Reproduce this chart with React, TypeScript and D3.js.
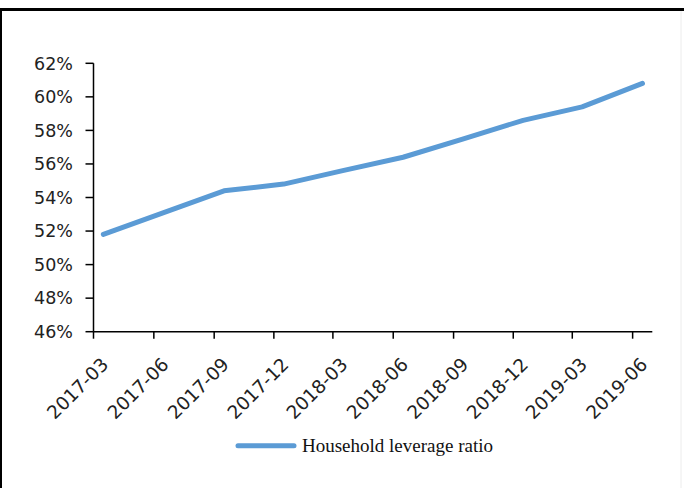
import React from "react";
import * as d3 from "d3";

// Quarterly household leverage ratio (%)
const quarters: string[] = [
  "2017-03", "2017-06", "2017-09", "2017-12", "2018-03",
  "2018-06", "2018-09", "2018-12", "2019-03", "2019-06",
];
const leverage: number[] = [51.8, 53.1, 54.4, 54.8, 55.6, 56.4, 57.5, 58.6, 59.4, 60.8];
const yTicks: number[] = [46, 48, 50, 52, 54, 56, 58, 60, 62];
const seriesName = "Household leverage ratio";

const W = 684;
const H = 488;
const BLUE = "#5b9bd5";
const AXIS_FONT = "'DejaVu Sans', sans-serif";

const parseMonth = d3.timeParse("%Y-%m-%d");

export default function App() {
  const x = d3
    .scaleTime()
    .domain([parseMonth("2017-03-01")!, parseMonth("2019-07-01")!])
    .range([93.5, 652.3]);
  const y = d3.scaleLinear().domain([46, 62]).range([331.7, 63.3]);

  // each observation sits mid-month within its quarter-end month
  const points = quarters.map((q, i) => ({
    date: parseMonth(q + "-16")!,
    value: leverage[i],
  }));
  const tickDates = quarters.map((q) => parseMonth(q + "-01")!);

  const line = d3
    .line<{ date: Date; value: number }>()
    .x((d) => x(d.date))
    .y((d) => y(d.value));

  const [x0, x1] = x.range();
  const [yBottom, yTop] = y.range();

  return (
    <svg
      width={W}
      height={H}
      viewBox={`0 0 ${W} ${H}`}
      style={{ position: "absolute", left: 0, top: 0, background: "#fff" }}
    >
      <rect x={0} y={0} width={W} height={H} fill="#fff" />
      {/* frame */}
      <line x1={0} x2={W} y1={9.5} y2={9.5} stroke="#000" strokeWidth={3} />
      <line x1={1} x2={1} y1={8} y2={H} stroke="#000" strokeWidth={2} />
      <line x1={681} x2={681} y1={11} y2={H} stroke="#ececec" strokeWidth={1} />

      {/* y axis */}
      <line x1={x0} x2={x0} y1={yTop} y2={yBottom} stroke="#000" strokeWidth={1.5} />
      {yTicks.map((t) => (
        <g key={t}>
          <line x1={x0 - 8} x2={x0} y1={y(t)} y2={y(t)} stroke="#000" strokeWidth={1.5} />
          <text
            x={73}
            y={y(t)}
            dy="0.36em"
            textAnchor="end"
            fontFamily={AXIS_FONT}
            fontSize={17.5}
            fill="#222"
          >
            {t}%
          </text>
        </g>
      ))}

      {/* x axis */}
      <line x1={x0} x2={x1} y1={yBottom} y2={yBottom} stroke="#000" strokeWidth={1.5} />
      {tickDates.map((d, i) => (
        <g key={quarters[i]}>
          <line x1={x(d)} x2={x(d)} y1={yBottom} y2={yBottom + 7} stroke="#000" strokeWidth={1.5} />
          <text
            transform={`translate(${x(d) + 16},${yBottom + 34}) rotate(-45)`}
            textAnchor="end"
            fontFamily={AXIS_FONT}
            fontSize={18.5}
            fill="#222"
          >
            {quarters[i]}
          </text>
        </g>
      ))}

      {/* series */}
      <path
        d={line(points) ?? ""}
        fill="none"
        stroke={BLUE}
        strokeWidth={5}
        strokeLinejoin="round"
        strokeLinecap="round"
      />

      {/* legend */}
      <line x1={238} x2={294} y1={445.7} y2={445.7} stroke={BLUE} strokeWidth={5} strokeLinecap="round" />
      <text
        x={302}
        y={452}
        fontFamily="'Liberation Serif', 'Times New Roman', serif"
        fontSize={19}
        fill="#111"
      >
        {seriesName}
      </text>
    </svg>
  );
}
